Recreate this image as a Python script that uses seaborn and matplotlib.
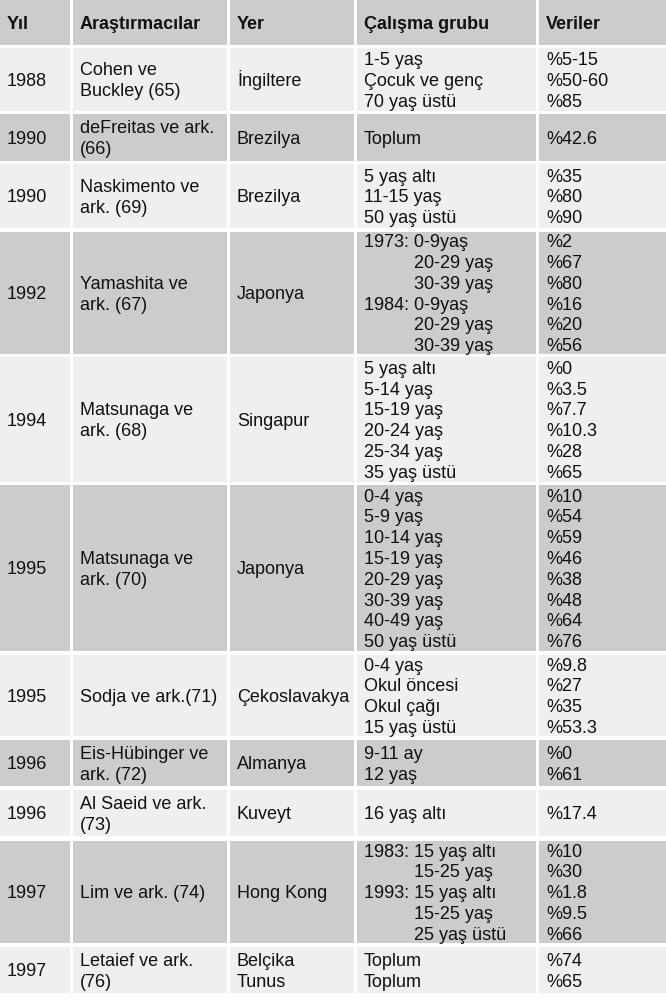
import matplotlib
matplotlib.use("Agg")
import matplotlib.pyplot as plt
import seaborn as sns

# ---------------- data ----------------
headers = ["Yıl", "Araştırmacılar", "Yer", "Çalışma grubu", "Veriler"]
years = ["1988", "1990", "1990", "1992", "1994", "1995", "1995", "1996", "1996", "1997", "1997"]
researchers = [
    ["Cohen ve", "Buckley (65)"],
    ["deFreitas ve ark.", "(66)"],
    ["Naskimento ve", "ark. (69)"],
    ["Yamashita ve", "ark. (67)"],
    ["Matsunaga ve", "ark. (68)"],
    ["Matsunaga ve", "ark. (70)"],
    ["Sodja ve ark.(71)"],
    ["Eis-Hübinger ve", "ark. (72)"],
    ["Al Saeid ve ark.", "(73)"],
    ["Lim ve ark. (74)"],
    ["Letaief ve ark.", "(76)"],
]
places = [
    ["İngiltere"], ["Brezilya"], ["Brezilya"], ["Japonya"], ["Singapur"],
    ["Japonya"], ["Çekoslavakya"], ["Almanya"], ["Kuveyt"], ["Hong Kong"],
    ["Belçika", "Tunus"],
]
groups = [
    ["1-5 yaş", "Çocuk ve genç", "70 yaş üstü"],
    ["Toplum"],
    ["5 yaş altı", "11-15 yaş", "50 yaş üstü"],
    ["1973: 0-9yaş", "          20-29 yaş", "          30-39 yaş",
     "1984: 0-9yaş", "          20-29 yaş", "          30-39 yaş"],
    ["5 yaş altı", "5-14 yaş", "15-19 yaş", "20-24 yaş", "25-34 yaş", "35 yaş üstü"],
    ["0-4 yaş", "5-9 yaş", "10-14 yaş", "15-19 yaş", "20-29 yaş", "30-39 yaş",
     "40-49 yaş", "50 yaş üstü"],
    ["0-4 yaş", "Okul öncesi", "Okul çağı", "15 yaş üstü"],
    ["9-11 ay", "12 yaş"],
    ["16 yaş altı"],
    ["1983: 15 yaş altı", "          15-25 yaş", "1993: 15 yaş altı",
     "          15-25 yaş", "          25 yaş üstü"],
    ["Toplum", "Toplum"],
]
values = [
    ["%5-15", "%50-60", "%85"],
    ["%42.6"],
    ["%35", "%80", "%90"],
    ["%2", "%67", "%80", "%16", "%20", "%56"],
    ["%0", "%3.5", "%7.7", "%10.3", "%28", "%65"],
    ["%10", "%54", "%59", "%46", "%38", "%48", "%64", "%76"],
    ["%9.8", "%27", "%35", "%53.3"],
    ["%0", "%61"],
    ["%17.4"],
    ["%10", "%30", "%1.8", "%9.5", "%66"],
    ["%74", "%65"],
]

# ---------------- layout ----------------
W, H = 666, 1006
col_edges = [(0, 70), (73, 227), (230, 354), (357, 536), (539, 666)]
text_pad = 7
row_spans = [(0, 45), (48, 111), (114, 161), (164, 228), (232, 354), (357, 482),
             (485, 651), (655, 736), (740, 786), (790, 836), (841, 943), (947, 993)]
line_h = 20.8
dark, light = "#cccccc", "#efefef"

sns.set_theme(style="white")
plt.rcParams["font.family"] = ["Liberation Sans", "DejaVu Sans"]

fig = plt.figure(figsize=(W / 100, H / 100), dpi=100)
ax = fig.add_axes([0, 0, 1, 1])
ax.set_xlim(0, W)
ax.set_ylim(H, 0)
ax.axis("off")

FS = 13


def draw_lines(lines, x, top, bottom, bold=False):
    n = len(lines)
    mid = (top + bottom) / 2
    first = mid - (n - 1) * line_h / 2
    for i, s in enumerate(lines):
        yc = first + i * line_h
        ax.text(x, yc + 6.3, s, fontsize=FS, ha="left", va="baseline",
                fontweight="bold" if bold else "normal", color="#111111")


for ri, (top, bot) in enumerate(row_spans):
    color = dark if ri % 2 == 0 else light
    for (x0, x1) in col_edges:
        ax.barh(y=(top + bot) / 2, width=x1 - x0, left=x0, height=bot - top,
                color=color, edgecolor="none", linewidth=0)

# header
for ci, h in enumerate(headers):
    top, bot = row_spans[0]
    draw_lines([h], col_edges[ci][0] + text_pad, top, bot, bold=True)

for r in range(len(years)):
    top, bot = row_spans[r + 1]
    cells = [[years[r]], researchers[r], places[r], groups[r], values[r]]
    for ci, lines in enumerate(cells):
        draw_lines(lines, col_edges[ci][0] + text_pad, top, bot)

fig.savefig("out.png", dpi=100, facecolor="white")
